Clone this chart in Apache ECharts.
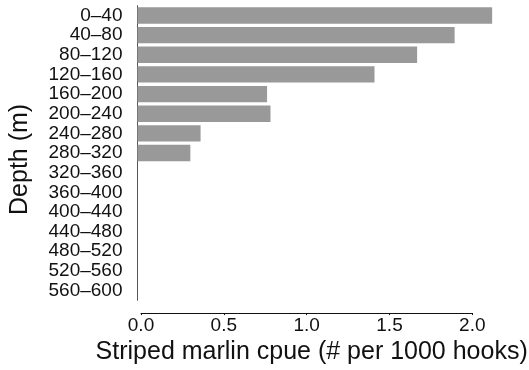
<!DOCTYPE html>
<html>
<head>
<meta charset="utf-8">
<script src="https://cdn.jsdelivr.net/npm/echarts@6/dist/echarts.min.js"></script>
<style>
  html, body { margin: 0; padding: 0; background: #fff; }
  #chart { width: 529px; height: 370px; }
</style>
</head>
<body>
<div id="chart"></div>
<script>
// Depth bins (m), top to bottom
const depthBins = [
  '0\u201340', '40\u201380', '80\u2013120', '120\u2013160', '160\u2013200',
  '200\u2013240', '240\u2013280', '280\u2013320', '320\u2013360', '360\u2013400',
  '400\u2013440', '440\u2013480', '480\u2013520', '520\u2013560', '560\u2013600'
];
// Striped marlin catch per 1000 hooks in each depth bin
const cpue = [2.08, 1.86, 1.64, 1.39, 0.76, 0.78, 0.37, 0.31, 0, 0, 0, 0, 0, 0, 0];
// Value axis ticks
const cpueTicks = [0, 0.5, 1.0, 1.5, 2.0];

const FONT = '"Liberation Sans", Arial, Helvetica, sans-serif';
const LEFT = 137.5;
const PX_PER_UNIT = 170.5;
const PLOT_TOP = 5.7;
const PLOT_H = 294.6;
const AXIS_Y = 313.3;

const chart = echarts.init(document.getElementById('chart'), null, { renderer: 'canvas' });

chart.setOption({
  animation: false,
  backgroundColor: '#ffffff',
  textStyle: { fontFamily: FONT },
  grid: [
    // bars
    { left: LEFT, top: PLOT_TOP, width: PX_PER_UNIT * 2.2, height: PLOT_H, containLabel: false },
    // detached value axis and axis titles
    { left: LEFT, top: PLOT_TOP, width: PX_PER_UNIT * 2, height: AXIS_Y - PLOT_TOP, containLabel: false }
  ],
  xAxis: [
    { gridIndex: 0, type: 'value', min: 0, max: 2.2, show: false },
    {
      gridIndex: 1, type: 'value', position: 'bottom',
      min: cpueTicks[0], max: cpueTicks[cpueTicks.length - 1], interval: 0.5,
      axisLine: { show: true, lineStyle: { color: '#111', width: 1 } },
      axisTick: { show: true, length: 2, lineStyle: { color: '#111' } },
      splitLine: { show: false },
      axisLabel: {
        fontSize: 19, color: '#111', margin: 3, fontFamily: FONT,
        formatter: v => v.toFixed(1)
      },
      name: 'Striped marlin cpue (# per 1000 hooks)',
      nameLocation: 'middle',
      nameGap: 26,
      nameTextStyle: { fontSize: 25, color: '#111', fontFamily: FONT, padding: [0, 0, 0, 10] }
    }
  ],
  yAxis: [
    {
      gridIndex: 0, type: 'category', inverse: true, data: depthBins,
      axisLine: { show: true, lineStyle: { color: '#555', width: 1 } },
      axisTick: { show: false },
      splitLine: { show: false },
      axisLabel: { fontSize: 19, color: '#111', margin: 15, fontFamily: FONT, interval: 0 }
    },
    {
      gridIndex: 1, type: 'value', min: 0, max: 1,
      axisLine: { show: false }, axisTick: { show: false },
      axisLabel: { show: false }, splitLine: { show: false },
      name: 'Depth (m)',
      nameLocation: 'middle',
      nameRotate: 90,
      nameGap: 108,
      nameTextStyle: { fontSize: 25, color: '#111', fontFamily: FONT }
    }
  ],
  series: [
    {
      type: 'bar',
      xAxisIndex: 0,
      yAxisIndex: 0,
      data: cpue,
      barCategoryGap: '16.7%',
      itemStyle: { color: '#999999' },
      silent: true
    }
  ]
});
</script>
</body>
</html>
